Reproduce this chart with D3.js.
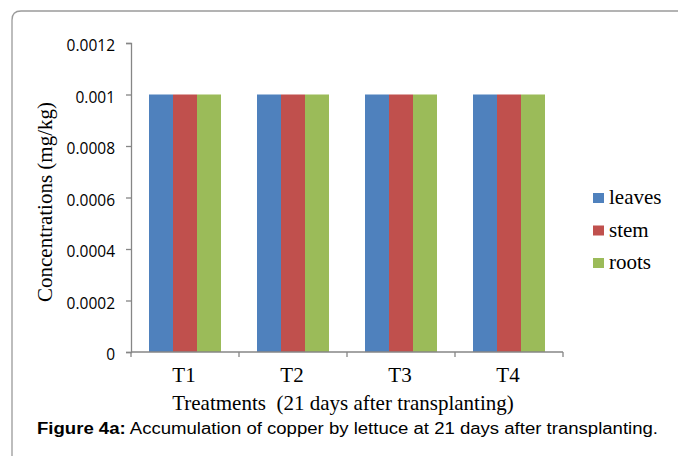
<!DOCTYPE html>
<html>
<head>
<meta charset="utf-8">
<script src="https://cdn.jsdelivr.net/npm/d3@7"></script>
<style>
    body { margin: 0; background: #fff; }
    .serif { font-family: "Liberation Serif", "Times New Roman", serif; fill: #000; }
    .tickLabel { font-family: "Open Sans", "Liberation Sans", sans-serif; font-size: 15.5px; fill: #000; }
    .caption { font-family: "Liberation Sans", Arial, sans-serif; font-size: 16px; fill: #000; }
</style>
</head>
<body>
<svg id="chart"></svg>
<script>
// chart values
const treatments = ['T1', 'T2', 'T3', 'T4'];
const seriesNames = ['leaves', 'stem', 'roots'];
const leaves = [0.001, 0.001, 0.001, 0.001];
const stem = [0.001, 0.001, 0.001, 0.001];
const roots = [0.001, 0.001, 0.001, 0.001];
const yTicks = [0, 0.0002, 0.0004, 0.0006, 0.0008, 0.001, 0.0012];
const colors = ['#4F81BD', '#C0504D', '#9BBB59'];

const seriesValues = [leaves, stem, roots];

const config = {
    width: 678,
    height: 458,
    margin: { top: 43, right: 115, bottom: 106, left: 131 }
};

const svg = d3.select('#chart')
    .attr('width', config.width)
    .attr('height', config.height);

// outer frame, rounded top-left corner
svg.append('path')
    .attr('d', 'M12,456 L12,20 Q12,11 21,11 L678,11')
    .attr('fill', 'none')
    .attr('stroke', '#9a9a9a')
    .attr('stroke-width', 1.3);

const innerW = config.width - config.margin.left - config.margin.right;
const innerH = config.height - config.margin.top - config.margin.bottom;

const chart = svg.append('g')
    .attr('transform', `translate(${config.margin.left},${config.margin.top})`);

const xScale = d3.scaleBand()
    .domain(treatments)
    .range([0, innerW])
    .padding(0);

// Excel default gap width 150%: 0.75 bar width on each side of a group
const bw = xScale.bandwidth();
const xInner = d3.scaleBand()
    .domain(seriesNames)
    .range([bw * 0.75 / 4.5, bw - bw * 0.75 / 4.5])
    .padding(0);

const yScale = d3.scaleLinear()
    .domain([0, 0.0012])
    .range([innerH, 0]);

// bars
seriesNames.forEach((name, i) => {
    chart.append('g')
        .selectAll('rect')
        .data(seriesValues[i])
        .join('rect')
        .attr('x', (d, j) => xScale(treatments[j]) + xInner(name))
        .attr('y', d => yScale(d))
        .attr('width', xInner.bandwidth())
        .attr('height', d => innerH - yScale(d))
        .attr('fill', colors[i]);
});

// y axis
const yAxis = d3.axisLeft(yScale)
    .tickValues(yTicks)
    .tickSize(5)
    .tickPadding(11)
    .tickFormat(d => d === 0 ? '0' : String(+d.toFixed(4)));

const yAxisG = chart.append('g').call(yAxis);
yAxisG.select('.domain').attr('stroke', '#868686').attr('stroke-width', 1.3);
yAxisG.selectAll('.tick line').attr('stroke', '#868686').attr('stroke-width', 1.3);
yAxisG.selectAll('.tick text')
    .attr('class', 'tickLabel')
    .attr('dy', '0.5em');

// x axis
const xAxisG = chart.append('g')
    .attr('transform', `translate(0,${innerH})`);

xAxisG.append('line')
    .attr('x1', 0).attr('x2', innerW)
    .attr('stroke', '#868686').attr('stroke-width', 1.3);

xAxisG.selectAll('.xtick')
    .data(d3.range(treatments.length + 1))
    .join('line')
    .attr('class', 'xtick')
    .attr('x1', i => i * bw).attr('x2', i => i * bw)
    .attr('y1', 0).attr('y2', 5)
    .attr('stroke', '#868686').attr('stroke-width', 1.3);

xAxisG.selectAll('.xlabel')
    .data(treatments)
    .join('text')
    .attr('class', 'xlabel serif')
    .attr('x', d => xScale(d) + bw / 2 - 1)
    .attr('y', 30)
    .attr('text-anchor', 'middle')
    .style('font-size', '21px')
    .text(d => d);

// axis titles
svg.append('text')
    .attr('class', 'serif')
    .attr('x', 343)
    .attr('y', 410)
    .attr('text-anchor', 'middle')
    .style('font-size', '21px')
    .style('white-space', 'pre')
    .text('Treatments  (21 days after transplanting)');

svg.append('text')
    .attr('class', 'serif')
    .attr('transform', 'translate(52, 202) rotate(-90)')
    .attr('text-anchor', 'middle')
    .style('font-size', '21px')
    .text('Concentrations (mg/kg)');

// legend
const legend = svg.append('g')
    .attr('transform', 'translate(593, 193)');

legend.selectAll('rect')
    .data(seriesNames)
    .join('rect')
    .attr('x', 0)
    .attr('y', (d, i) => i * 32.5)
    .attr('width', 11)
    .attr('height', 10)
    .attr('fill', (d, i) => colors[i]);

legend.selectAll('text')
    .data(seriesNames)
    .join('text')
    .attr('class', 'serif')
    .attr('x', 16)
    .attr('y', (d, i) => i * 32.5 + 11)
    .style('font-size', '21px')
    .text(d => d);

// caption (the original is stretched horizontally)
const caption = svg.append('text')
    .attr('class', 'caption')
    .attr('x', 37)
    .attr('y', 434)
    .attr('textLength', 621)
    .attr('lengthAdjust', 'spacingAndGlyphs');

caption.append('tspan')
    .style('font-weight', 'bold')
    .text('Figure 4a:');

caption.append('tspan')
    .text(' Accumulation of copper by lettuce at 21 days after transplanting.');
</script>
</body>
</html>
